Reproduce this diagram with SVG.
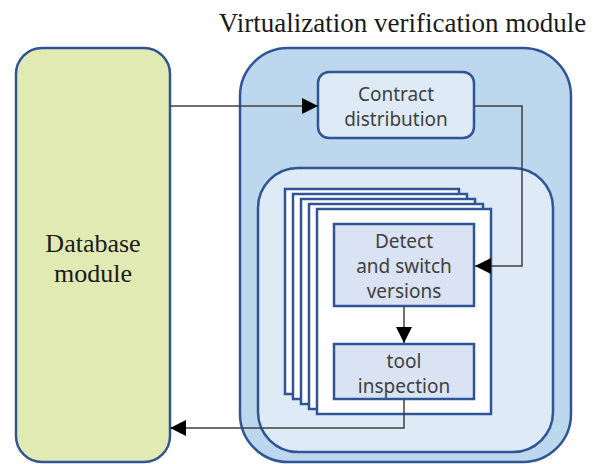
<svg xmlns="http://www.w3.org/2000/svg" width="597" height="464" viewBox="0 0 597 464">
<style>
.serif{font-family:"Liberation Serif","Times New Roman",serif;fill:#1a1a1a;text-anchor:middle}
.sans{font-family:"Noto Sans","DejaVu Sans",sans-serif;font-size:19px;fill:#404040;text-anchor:middle}
.blue{stroke:#2f5597;stroke-width:2.5}
.page{fill:#ffffff;stroke:#2f5597;stroke-width:2.5}
.proc{fill:#dae3f3;stroke:#2f5597;stroke-width:2.5}
.conn{fill:none;stroke:#404040;stroke-width:1.5}
</style>
<defs>
<marker id="ah" markerUnits="userSpaceOnUse" markerWidth="16" markerHeight="16" viewBox="0 0 16 16" refX="16" refY="8" orient="auto">
<path d="M0,0 L16,8 L0,16 Z" fill="#000"/>
</marker>
</defs>
<rect width="597" height="464" fill="#ffffff"/>
<g id="title">
<text class="serif" x="402.5" y="32" font-size="27">Virtualization verification module</text>
</g>
<g id="database">
<rect x="16" y="48" width="154" height="414" rx="26" fill="#e2eab4" class="blue"/>
<text class="serif" x="93" y="252" font-size="26">Database</text>
<text class="serif" x="93" y="282" font-size="26">module</text>
</g>
<g id="virtualization">
<rect x="240" y="48" width="331" height="414" rx="48" fill="#bdd7ee" class="blue"/>
</g>
<g id="inner">
<rect x="258" y="168" width="295" height="284" rx="40" fill="#deebf7" class="blue"/>
</g>
<g id="contract">
<rect x="318" y="72" width="156" height="66" rx="11" fill="#deebf7" class="blue"/>
<text class="sans" x="396" y="101">Contract</text>
<text class="sans" x="396" y="126">distribution</text>
</g>
<g id="stack">
<rect class="page" x="285" y="189" width="174" height="205"/>
<rect class="page" x="293" y="194" width="174" height="205"/>
<rect class="page" x="301" y="199" width="174" height="205"/>
<rect class="page" x="309" y="204" width="174" height="205"/>
<rect class="page" x="317" y="209" width="174" height="205"/>
</g>
<g id="detect">
<rect class="proc" x="334" y="224" width="140" height="82"/>
<text class="sans" x="404" y="248">Detect</text>
<text class="sans" x="404" y="273">and switch</text>
<text class="sans" x="404" y="298">versions</text>
</g>
<g id="tool">
<rect class="proc" x="334" y="344" width="140" height="55"/>
<text class="sans" x="404" y="368" font-size="18.5">tool</text>
<text class="sans" x="404" y="393" font-size="18.5">inspection</text>
</g>
<g id="connectors">
<path class="conn" d="M170,106 H318" marker-end="url(#ah)"/>
<path class="conn" d="M474,106 H522 V266 H475" marker-end="url(#ah)"/>
<path class="conn" d="M404,306 V343" marker-end="url(#ah)"/>
<path class="conn" d="M404,399 V428 H170" marker-end="url(#ah)"/>
</g>
</svg>
